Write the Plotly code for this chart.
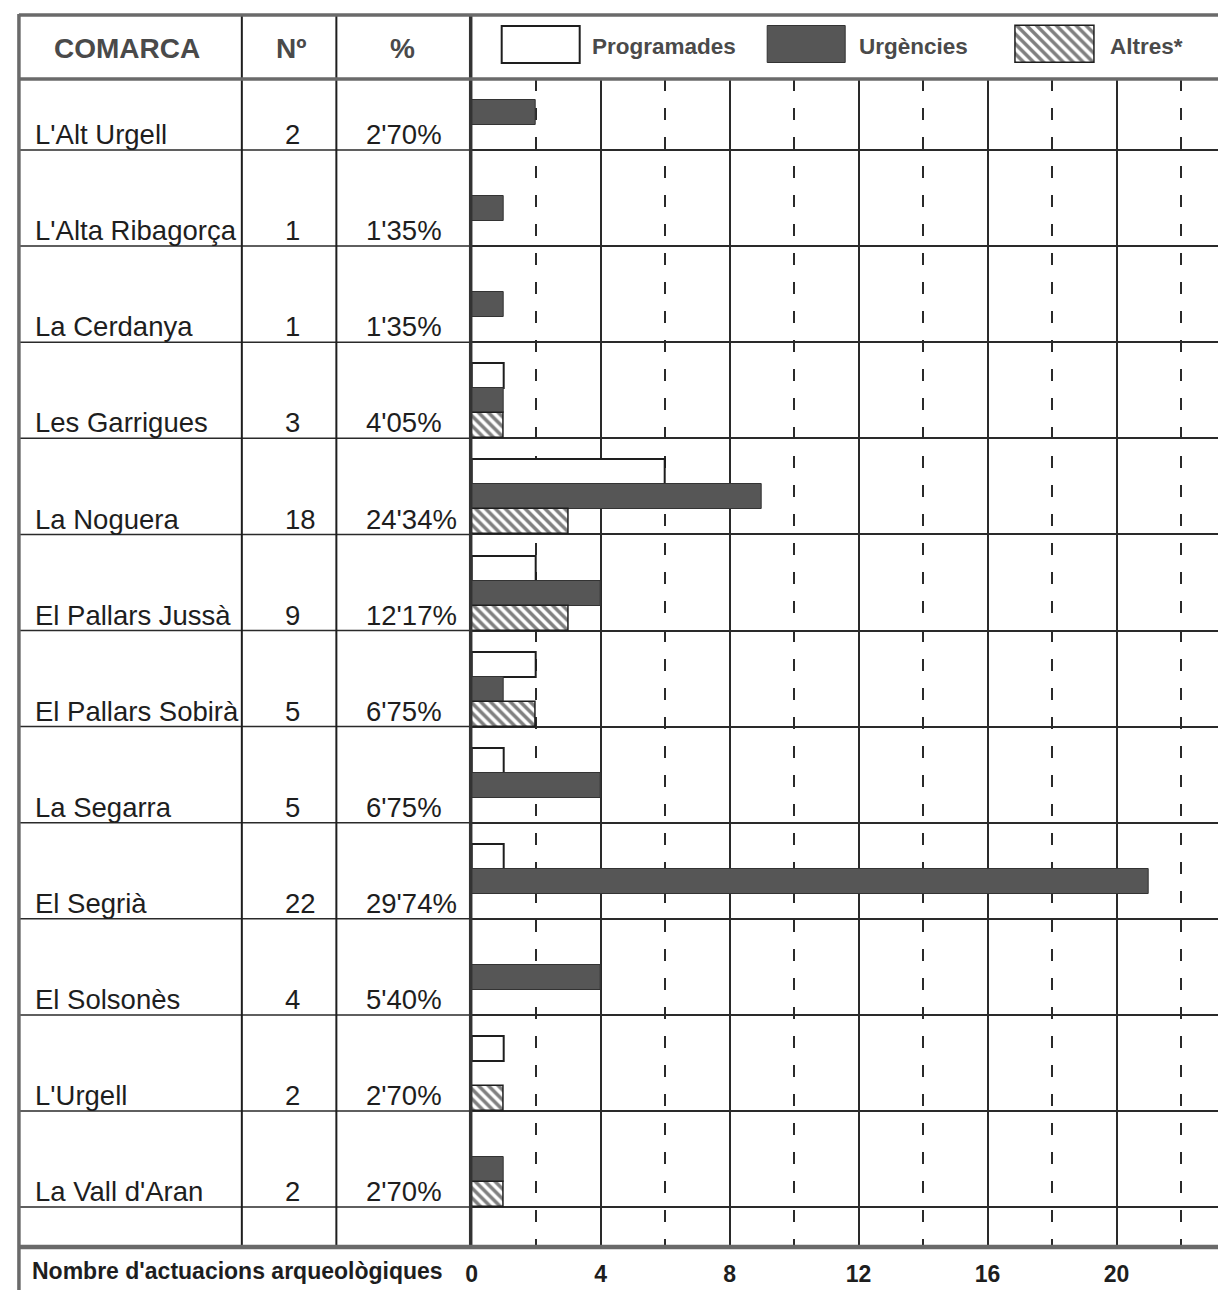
import plotly.graph_objects as go

# ---------------- data ----------------
comarques = ["L'Alt Urgell", "L'Alta Ribagorça", "La Cerdanya", "Les Garrigues",
             "La Noguera", "El Pallars Jussà", "El Pallars Sobirà", "La Segarra",
             "El Segrià", "El Solsonès", "L'Urgell", "La Vall d'Aran"]
nombre = [2, 1, 1, 3, 18, 9, 5, 5, 22, 4, 2, 2]
percentatge = ["2'70%", "1'35%", "1'35%", "4'05%", "24'34%", "12'17%",
               "6'75%", "6'75%", "29'74%", "5'40%", "2'70%", "2'70%"]
programades = [0, 0, 0, 1, 6, 2, 2, 1, 1, 0, 1, 0]
urgencies = [2, 1, 1, 1, 9, 4, 1, 4, 21, 4, 0, 1]
altres = [0, 0, 0, 1, 3, 3, 2, 0, 0, 0, 1, 1]
x_ticks = [0, 4, 8, 12, 16, 20]
series_names = ["Programades", "Urgències", "Altres*"]
header_labels = ["COMARCA", "Nº", "%"]
x_title = "Nombre d'actuacions arqueològiques"

# ---------------- layout constants ----------------
W, H = 1218, 1290
FONT = "Liberation Sans, Arial, sans-serif"
DARK = "#1e1e1e"
GREY_TXT = "#4a4a4a"
FRAME = "#6a6a6a"

def px(x):
    return x / W

def py(y):
    return 1 - y / H

PLOT_LEFT, PLOT_TOP, PLOT_BOTTOM = 468, 79, 1247
ROW0, ROWH = 53.9, 96.1          # pixel of row boundary 0, row height
X_UNIT = 32.4                    # pixels per unit on x
x_max = (W - PLOT_LEFT) / X_UNIT
y_top = (PLOT_TOP - ROW0) / ROWH
y_bot = (PLOT_BOTTOM - ROW0) / ROWH

COL_X = [237, 332]               # table column separators
OFFSETS = [0.35, 0.61, 0.87]     # bar slot centres inside a row
BAR_W = 0.26

fig = go.Figure()

def nz(v):
    return [a if a else None for a in v]

styles = [
    dict(color="white", line=dict(color=DARK, width=2)),
    dict(color="#565656", line=dict(color="#333333", width=1)),
    dict(color="white", line=dict(color=DARK, width=1.5),
         pattern=dict(shape="\\", fgcolor="#000000", bgcolor="white", size=7, solidity=0.5)),
]
for name, vals, off, st in zip(series_names, [programades, urgencies, altres], OFFSETS, styles):
    fig.add_trace(go.Bar(
        name=name, orientation="h",
        x=nz(vals), y=[i + off for i in range(len(comarques))],
        width=BAR_W, marker=st, showlegend=False,
        xaxis="x", yaxis="y",
    ))

# ------------- legend swatches (own little axis in the header) -------------
LEG_X = [498, 765, 1015]
LEG_TXT_X = [587, 855, 1107]
LEG_W = 79
for name, lx, st in zip(series_names, LEG_X, styles):
    fig.add_trace(go.Bar(
        orientation="h", base=[lx], x=[LEG_W], y=[44.5], width=37,
        marker=st, showlegend=False, xaxis="x2", yaxis="y2", hoverinfo="skip",
    ))

fig.update_layout(
    width=W, height=H, margin=dict(l=0, r=0, t=0, b=0),
    paper_bgcolor="white", plot_bgcolor="white",
    barmode="overlay", bargap=0,
    font=dict(family=FONT, color=DARK),
    xaxis=dict(
        domain=[px(PLOT_LEFT), 1], range=[0, x_max], anchor="y",
        tickvals=x_ticks, ticktext=[str(t) for t in x_ticks],
        tickfont=dict(size=23, family=FONT, color=DARK, weight="bold"),
        ticks="", ticklabelstandoff=11,
        showgrid=True, gridcolor="#2a2a2a", gridwidth=1.5,
        minor=dict(dtick=2, tick0=0, showgrid=True, gridcolor="#2a2a2a",
                   gridwidth=1.5, griddash="12px,17px"),
        zeroline=False, showline=False,
    ),
    yaxis=dict(
        domain=[py(PLOT_BOTTOM), py(PLOT_TOP)], range=[y_bot, y_top], anchor="x",
        tick0=0, dtick=1, showticklabels=False, ticks="",
        showgrid=True, gridcolor="#2a2a2a", gridwidth=1.5,
        zeroline=False, showline=False,
    ),
    xaxis2=dict(domain=[px(PLOT_LEFT), 1], range=[PLOT_LEFT, W], anchor="y2",
                visible=False, fixedrange=True),
    yaxis2=dict(domain=[py(PLOT_TOP), py(15)], range=[PLOT_TOP, 15], anchor="x2",
                visible=False, fixedrange=True),
)

shapes = []
# row separators inside the table
for k in range(1, len(comarques) + 1):
    shapes.append(dict(type="line", xref="paper", yref="y", x0=px(13), x1=px(PLOT_LEFT),
                       y0=k, y1=k, line=dict(color="#2a2a2a", width=1.5)))
# column separators
for cx in COL_X:
    shapes.append(dict(type="line", xref="paper", yref="paper", x0=px(cx), x1=px(cx),
                       y0=py(PLOT_BOTTOM), y1=py(15), line=dict(color=DARK, width=2)))
# axis / table-chart separator
shapes.append(dict(type="line", xref="paper", yref="paper", x0=px(467), x1=px(467),
                   y0=py(PLOT_BOTTOM), y1=py(15), line=dict(color="#333333", width=3.5)))
# frame lines
shapes.append(dict(type="line", xref="paper", yref="paper", x0=px(13), x1=1,
                   y0=py(15), y1=py(15), line=dict(color=FRAME, width=3.5)))
shapes.append(dict(type="line", xref="paper", yref="paper", x0=px(13), x1=1,
                   y0=py(PLOT_TOP), y1=py(PLOT_TOP), line=dict(color=FRAME, width=3.5)))
shapes.append(dict(type="line", xref="paper", yref="paper", x0=px(13), x1=1,
                   y0=py(PLOT_BOTTOM), y1=py(PLOT_BOTTOM), line=dict(color=FRAME, width=4.5)))
shapes.append(dict(type="line", xref="paper", yref="paper", x0=px(13), x1=px(13),
                   y0=0, y1=py(14), line=dict(color=FRAME, width=3.5)))
fig.update_layout(shapes=shapes)

ann = []
# header
for txt, cx in zip(header_labels, [122, 286, 398]):
    ann.append(dict(text=txt, xref="paper", yref="paper", x=px(cx), y=py(49),
                    xanchor="center", yanchor="middle", showarrow=False,
                    font=dict(size=28, family=FONT, color=GREY_TXT, weight="bold")))
# legend labels
for txt, lx in zip(series_names, LEG_TXT_X):
    ann.append(dict(text=txt, xref="paper", yref="paper", x=px(lx), y=py(46),
                    xanchor="left", yanchor="middle", showarrow=False,
                    font=dict(size=22.5, family=FONT, color=GREY_TXT, weight="bold")))
# table rows
for i, (c, n, p) in enumerate(zip(comarques, nombre, percentatge)):
    yv = i + 0.84
    ann.append(dict(text=c, xref="paper", yref="y", x=px(27), y=yv, xanchor="left",
                    yanchor="middle", showarrow=False, font=dict(size=27.5, family=FONT, color=DARK)))
    ann.append(dict(text=str(n), xref="paper", yref="y", x=px(278), y=yv, xanchor="left",
                    yanchor="middle", showarrow=False, font=dict(size=27.5, family=FONT, color=DARK)))
    ann.append(dict(text=p, xref="paper", yref="y", x=px(360), y=yv, xanchor="left",
                    yanchor="middle", showarrow=False, font=dict(size=27.5, family=FONT, color=DARK)))
# x title
ann.append(dict(text=x_title, xref="paper", yref="paper", x=px(24), y=py(1271),
                xanchor="left", yanchor="middle", showarrow=False,
                font=dict(size=23, family=FONT, color=DARK, weight="bold")))
fig.update_layout(annotations=ann)

fig.write_html(
    "out.html",
    config={"displayModeBar": False},
    post_script="document.body.style.margin='0';document.body.style.overflow='hidden';",
)
